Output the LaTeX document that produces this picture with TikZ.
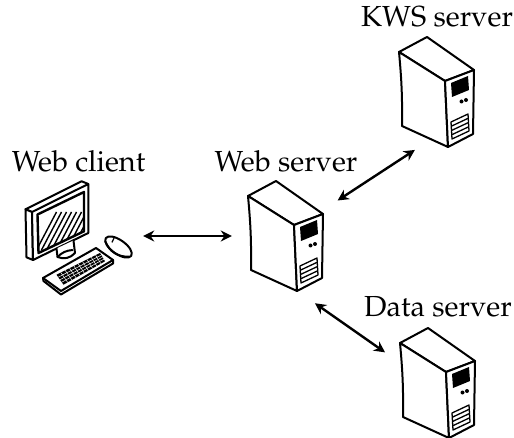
\documentclass[tikz,border=0pt]{standalone}
\usepackage[T1]{fontenc}
\usepackage{mathpazo}
\usepackage{tikz}
\usetikzlibrary{arrows.meta, positioning, calc}

\tikzset{
    icon/.style={line width=2pt, line join=round, line cap=round},
    srvbox/.style={rectangle, inner sep=0pt, minimum width=76pt, minimum height=110pt},
    pcbox/.style={rectangle, inner sep=0pt, minimum width=107pt, minimum height=112pt},
    caption/.style={inner sep=0pt, font=\fontsize{29}{32}\selectfont},
    link/.style={{Stealth[length=11pt,width=11pt]}-{Stealth[length=11pt,width=11pt]}, line width=2.4pt},
    % tower case, drawn round its centre
    pics/server/.style={code={
        \draw[icon, fill=white] (-38,-40) -- (-10,-55) -- (37,-22) -- (8,-11) -- cycle;
        \draw[icon, fill=white] (-38,-40) to[bend left=3] (-35,34) -- (11,55) -- (8,-11) -- cycle;
        \draw[icon, fill=white] (8,-11) -- (37,-22) -- (36,42) -- (11,55) -- cycle;
        \fill (14,-9) -- (31,-16) -- (32,-2) -- (15,5) -- cycle;
        \fill (24.5,9.5) circle (2) (29,8) circle (2);
        \draw[line width=1.3pt, line join=round] (14,30) -- (31,22) -- (32,39) -- (15,47) -- cycle;
        \foreach \t in {0.25,0.5,0.75}
            \draw[line width=1.3pt] ($(14,30)!\t!(15,47)$) -- ($(31,22)!\t!(32,39)$);
    }},
    % desktop with keyboard and mouse, drawn round its centre
    pics/desktop/.style={code={
        % monitor
        \draw[icon, fill=white] (-46.5,-24) -- (-53,-26.7) -- (3.1,-54.7) -- (9.8,-52);
        \draw[icon, fill=white] (-46.5,-24) -- (-53,-26.7) -- (-52,21.3) -- (-45.5,24) -- cycle;
        \draw[icon, fill=white] (-46.5,-24) -- (9.8,-52) -- (9.8,-3) -- (-45.5,24) -- cycle;
        \begin{scope}
            \clip (-41,-21.5) -- (5.5,-44) -- (5.5,-4.7) -- (-40,17) -- cycle;
            \foreach \s in {-36,-31,...,14}
                \draw[line width=1.4pt] (\s-6,14) -- (\s+14,-24);
        \end{scope}
        \draw[line width=2.4pt, line join=round] (-41,-21.5) -- (5.5,-44) -- (5.5,-4.7) -- (-40,17) -- cycle;
        % stand
        \draw[icon, fill=white] (-22,12.5) -- (-21,21) to[bend right=35] (-3.5,17) -- (-5,4.5);
        \draw[icon] (-21,21) to[bend left=20] (-6,14);
        % keyboard
        \draw[icon, fill=white] (-35.5,42) -- (17.5,12) -- (34.5,24) -- (-17.5,55) -- cycle;
        \draw[icon] (-35.5,42) -- (-35,45) -- (-17.5,58.5) -- (34.5,27.5) -- (34.5,24);
        \fill (-22,38.7) -- (21.5,17) -- (26.5,25.3) -- (-15,48.7) -- cycle;
        \foreach \t in {0.1,0.2,...,0.95}
            \draw[white, line width=0.5pt] ($(-22,38.7)!\t!(21.5,17)$) -- ($(-15,48.7)!\t!(26.5,25.3)$);
        \foreach \t in {0.25,0.5,0.75}
            \draw[white, line width=0.5pt] ($(-22,38.7)!\t!(-15,48.7)$) -- ($(21.5,17)!\t!(26.5,25.3)$);
        % mouse
        \draw[icon, fill=white, rotate around={-35:(40,11)}] (40,11) ellipse (15.5 and 7);
        \draw[icon, rotate around={-35:(40,11)}] (26,14) to[bend right=35] (54,13);
        \draw[line width=1.2pt, rotate around={-35:(40,11)}] (31,5) -- (32,11);
    }}
}

\begin{document}
\begin{tikzpicture}[x=1pt, y=-1pt]
\useasboundingbox (0,0) rectangle (514,438);

\node[pcbox]  (client) at (78.5,236) {};
\node[srvbox] (web)    at (286,236) {};
\node[srvbox] (kws)    at (437,92) {};
\node[srvbox] (data)   at (438,383) {};

\pic at (client) {desktop};
\pic at (web) {server};
\pic at (kws) {server};
\pic at (data) {server};

\node[caption, above=7pt of client] {Web client};
\node[caption, above=8pt of web] {Web server};
\node[caption, above=9pt of kws] {KWS server};
\node[caption, above=10pt of data] {Data server};

\draw[link, shorten <=11pt, shorten >=16pt] (client.east) -- (web.west);
\draw[link, shorten <=16pt, shorten >=5pt] (web.35) -- (kws.252);
\draw[link, shorten <=21pt, shorten >=18pt] (web.282) -- (data.152);

\end{tikzpicture}
\end{document}
